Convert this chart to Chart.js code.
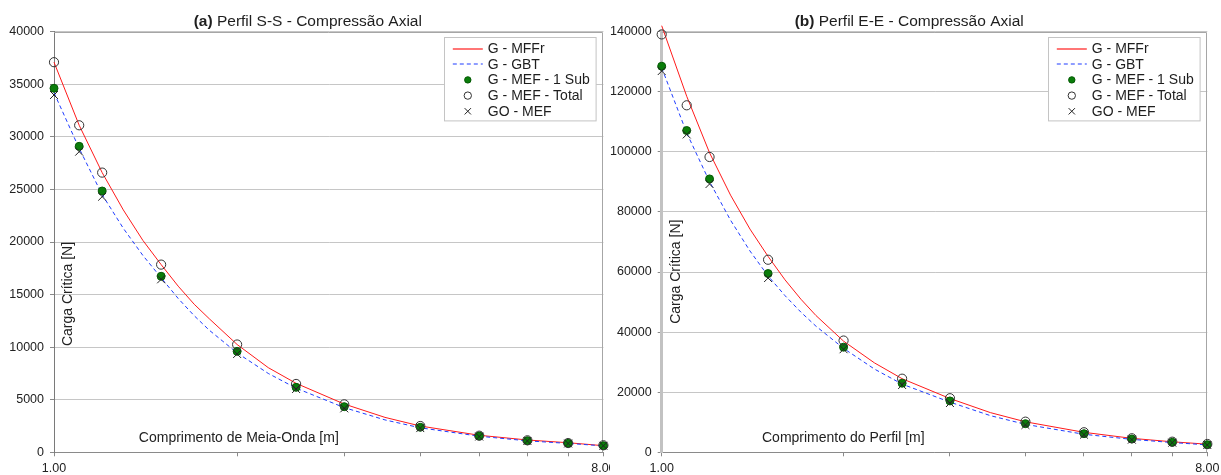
<!DOCTYPE html>
<html>
<head>
<meta charset="utf-8">
<script src="https://cdn.jsdelivr.net/npm/chart.js@4.4.0/dist/chart.umd.min.js"></script>
<style>
  html, body { margin: 0; padding: 0; background: #fff; width: 1221px; height: 475px; overflow: hidden; }
  .panel { position: absolute; top: 0; height: 475px; }
  #panelA { left: 0; width: 610px; }
  #panelB { left: 610px; width: 611px; }
  canvas { display: block; }
</style>
</head>
<body>
<div class="panel" id="panelA"><canvas id="chartA" width="610" height="475"></canvas></div>
<div class="panel" id="panelB"><canvas id="chartB" width="611" height="475"></canvas></div>
<script>
const FONT = "'Liberation Sans', Arial, Helvetica, sans-serif";

// Lengths of the analysed members [m]
const markerLengths = [1, 1.1, 1.2, 1.5, 2, 2.5, 3, 4, 5, 6, 7, 8];
// Lengths at which the semi-analytical curves are traced [m]
const curveLengths = [1, 1.1, 1.2, 1.3, 1.4, 1.5, 1.6, 1.7, 1.8, 2, 2.25, 2.5, 3, 3.5, 4, 5, 6, 7, 8];
// Tick positions on the length axis and the ones that carry a label
const xTickValues = [1, 2, 3, 4, 5, 6, 7, 8];
const xLabelledTicks = [1, 8];
const seriesNames = ['G - MFFr', 'G - GBT', 'G - MEF - 1 Sub', 'G - MEF - Total', 'GO - MEF'];

// (a) S-S section, critical load [N]
const ssMFFr  = [37100, 31100, 26600, 23050, 20150, 17850, 15800, 14080, 12700, 10250, 8050, 6560, 4590, 3320, 2500, 1620, 1170, 910, 630];
const ssGBT   = [34200, 28900, 24500, 21300, 18720, 16600, 14630, 12990, 11610, 9450, 7500, 6100, 4250, 3080, 2330, 1530, 1090, 845, 615];
const ssSub1  = [34620, 29100, 24850, 16740, 9600, 6180, 4340, 2380, 1550, 1100, 855, 630];
const ssTotal = [37100, 31100, 26600, 17850, 10250, 6500, 4560, 2500, 1580, 1140, 880, 670];
const ssGO    = [33980, 28590, 24310, 16450, 9350, 6020, 4180, 2300, 1500, 1080, 840, 620];
const ssYTicks = { max: 40000, step: 5000 };

// (b) E-E section, critical load [N]
const eeMFFr  = [142000, 118500, 99700, 85600, 74300, 65200, 57400, 50950, 45530, 37000, 29760, 24500, 17900, 13210, 10150, 6650, 4650, 3500, 2700];
const eeGBT   = [128000, 106300, 90100, 77260, 67000, 58700, 52140, 46640, 41990, 34600, 27700, 22700, 16700, 12200, 9300, 6000, 4300, 3250, 2470];
const eeSub1  = [128500, 107100, 91000, 59500, 35000, 23000, 17100, 9530, 6200, 4430, 3330, 2530];
const eeTotal = [139100, 115500, 98300, 64100, 37200, 24500, 18000, 10200, 6670, 4670, 3530, 2770];
const eeGO    = [126900, 105800, 89300, 58000, 34300, 22400, 16400, 9100, 5870, 4200, 3200, 2430];
const eeYTicks = { max: 140000, step: 20000 };

function pairs(xs, ys) {
  return xs.map((x, i) => ({ x: x, y: ys[i] }));
}

function buildDatasets(mffr, gbt, sub1, total, go) {
  return [
    { label: seriesNames[0], data: pairs(curveLengths, mffr), borderColor: '#ff1a1a', borderWidth: 1,
      pointRadius: 0, tension: 0, order: 10, clip: false },
    { label: seriesNames[1], data: pairs(curveLengths, gbt), borderColor: '#1f3cff', borderWidth: 1,
      borderDash: [4, 3], pointRadius: 0, tension: 0, order: 9, clip: false },
    { label: seriesNames[2], data: pairs(markerLengths, sub1), showLine: false, pointStyle: 'circle',
      pointRadius: 4, backgroundColor: '#0a7d0a', borderColor: '#055a05', borderWidth: 1, order: 3, clip: false },
    { label: seriesNames[3], data: pairs(markerLengths, total), showLine: false, pointStyle: 'circle',
      pointRadius: 4.6, backgroundColor: 'rgba(0,0,0,0)', borderColor: '#333', borderWidth: 1, order: 2, clip: false },
    { label: seriesNames[4], data: pairs(markerLengths, go), showLine: false, pointStyle: 'crossRot',
      pointRadius: 5.6, backgroundColor: '#222', borderColor: '#222', borderWidth: 1, order: 1, clip: false }
  ];
}

// Title, axis captions inside the plot, frame and boxed legend
const decorPlugin = {
  id: 'decor',
  beforeDatasetsDraw(chart, args, o) {
    const { ctx, chartArea: a } = chart;
    ctx.save();
    ctx.strokeStyle = '#a6a6a6';
    ctx.lineWidth = 1;
    ctx.beginPath();
    ctx.moveTo(a.left, Math.round(a.top) + 0.5);
    ctx.lineTo(Math.round(a.right) - 0.5, Math.round(a.top) + 0.5);
    ctx.lineTo(Math.round(a.right) - 0.5, a.bottom);
    ctx.stroke();
    ctx.restore();
  },
  afterDraw(chart, args, o) {
    const { ctx, chartArea: a } = chart;
    ctx.save();
    // title: bold panel letter followed by regular text
    ctx.fillStyle = '#1e1e1e';
    ctx.textBaseline = 'alphabetic';
    const boldFont = 'bold 15.5px ' + FONT, normFont = '15.5px ' + FONT;
    ctx.font = boldFont; const wb = ctx.measureText(o.titleBold).width;
    ctx.font = normFont; const wn = ctx.measureText(o.titleText).width;
    const tx = o.titleX - (wb + wn) / 2;
    ctx.font = boldFont; ctx.textAlign = 'left'; ctx.fillText(o.titleBold, tx, 26);
    ctx.font = normFont; ctx.fillText(o.titleText, tx + wb, 26);

    // axis captions
    ctx.font = '14px ' + FONT;
    ctx.fillStyle = '#222';
    ctx.textAlign = 'center';
    ctx.textBaseline = 'middle';
    ctx.fillText(o.xTitle, o.xTitleX, o.xTitleY);
    ctx.save();
    ctx.translate(o.yTitleX, o.yTitleY);
    ctx.rotate(-Math.PI / 2);
    ctx.fillText(o.yTitle, 0, 0);
    ctx.restore();

    // legend box
    const bw = 151.6, bh = 83.4;
    const bx = Math.round(a.right - 7.5 - bw) + 0.5, by = Math.round(a.top + 5.6) + 0.5;
    ctx.fillStyle = '#fff';
    ctx.strokeStyle = '#c4c4c4';
    ctx.lineWidth = 1;
    ctx.fillRect(bx, by, bw, bh);
    ctx.strokeRect(bx, by, bw, bh);
    chart.data.datasets.forEach((ds, i) => {
      const y = by + 11 + i * 15.7;
      ctx.save();
      if (ds.showLine === false) {
        ctx.fillStyle = ds.backgroundColor;
        ctx.strokeStyle = ds.borderColor;
        ctx.lineWidth = ds.borderWidth;
        Chart.helpers.drawPoint(ctx, { pointStyle: ds.pointStyle, radius: ds.pointRadius * 0.8, borderWidth: ds.borderWidth, rotation: 0 }, bx + 23.3, y);
      } else {
        // sample line laid between two pixel rows, giving a soft two-pixel stroke
        ctx.strokeStyle = ds.borderColor;
        ctx.lineWidth = 1.2;
        ctx.setLineDash(ds.borderDash || []);
        ctx.beginPath();
        ctx.moveTo(bx + 8.3, Math.round(y));
        ctx.lineTo(bx + 38.3, Math.round(y));
        ctx.stroke();
      }
      ctx.restore();
      ctx.font = '14px ' + FONT;
      ctx.fillStyle = '#1e1e1e';
      ctx.textAlign = 'left';
      ctx.textBaseline = 'middle';
      ctx.fillText(ds.label, bx + 43.3, y + 0.5);
    });
    ctx.restore();
  }
};

function makeChart(id, sets, yTicks, yAxisWidth, padRight, yBorder, decor) {
  return new Chart(document.getElementById(id), {
    type: 'line',
    data: { datasets: sets },
    plugins: [decorPlugin],
    options: {
      responsive: false,
      animation: false,
      events: [],
      layout: { padding: { top: 31.7, right: padRight, bottom: 0, left: 0 } },
      plugins: {
        legend: { display: false },
        title: { display: false },
        tooltip: { enabled: false },
        decor: decor
      },
      scales: {
        x: {
          type: 'logarithmic',
          min: 1,
          max: 8,
          afterBuildTicks(scale) { scale.ticks = xTickValues.map(v => ({ value: v })); },
          afterFit(scale) { scale.height = 22.7; scale.paddingLeft = 0; scale.paddingRight = 0; },
          ticks: {
            autoSkip: false,
            maxRotation: 0,
            padding: 5,
            color: '#222',
            font: { family: FONT, size: 12.5 },
            callback: (v) => xLabelledTicks.includes(v) ? Number(v).toFixed(2) : ''
          },
          grid: { drawOnChartArea: false, drawTicks: true, tickLength: 4, color: '#8a8a8a' },
          border: { color: '#8a8a8a', width: 1 }
        },
        y: {
          type: 'linear',
          min: 0,
          max: yTicks.max,
          afterFit(scale) { scale.width = yAxisWidth; scale.paddingTop = 0; scale.paddingBottom = 0; },
          ticks: {
            stepSize: yTicks.step,
            padding: 6,
            color: '#222',
            font: { family: FONT, size: 12.5 },
            callback: (v) => String(v)
          },
          grid: { color: '#c6c6c6', lineWidth: 1, tickLength: 4, tickColor: '#8a8a8a' },
          border: yBorder
        }
      }
    }
  });
}

makeChart('chartA', buildDatasets(ssMFFr, ssGBT, ssSub1, ssTotal, ssGO), ssYTicks, 54, 4,
  { color: '#7a7a7a', width: 1 },
  { titleBold: '(a)', titleText: ' Perfil S-S - Compressão Axial', titleX: 307.8,
    xTitle: 'Comprimento de Meia-Onda [m]', xTitleX: 238.8, xTitleY: 438,
    yTitle: 'Carga Crítica [N]', yTitleX: 68.3, yTitleY: 294 });

makeChart('chartB', buildDatasets(eeMFFr, eeGBT, eeSub1, eeTotal, eeGO), eeYTicks, 51.7, 13.7,
  { color: '#c2c2c2', width: 3 },
  { titleBold: '(b)', titleText: ' Perfil E-E - Compressão Axial', titleX: 299.2,
    xTitle: 'Comprimento do Perfil [m]', xTitleX: 233.3, xTitleY: 438,
    yTitle: 'Carga Crítica [N]', yTitleX: 65.7, yTitleY: 271.7 });
</script>
</body>
</html>
